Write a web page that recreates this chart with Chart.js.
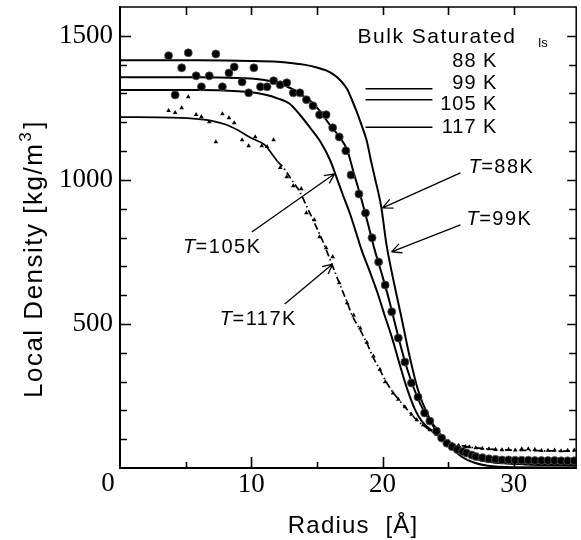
<!DOCTYPE html>
<html>
<head>
<meta charset="utf-8">
<title>Local Density vs Radius</title>
<script src="https://cdn.jsdelivr.net/npm/chart.js@4.4.0/dist/chart.umd.min.js"></script>
<style>
  body { margin: 0; background: #fff; }
  canvas { display: block; }
</style>
</head>
<body>
<canvas id="densityChart" width="581" height="540"></canvas>
<script>
// radius [A] and local density [kg/m3]

// theory curves
const radius88 = [0, 6, 10, 12, 13, 14, 15, 15.7, 16.2, 16.8, 17.3, 17.6, 18.0, 18.4, 18.8, 19.1, 19.4, 19.9, 20.3, 20.7, 21.0, 21.4, 22.0, 22.7, 23.5, 24.3, 25, 26, 27, 28, 30, 34.75];
const density88 = [1415, 1415, 1413, 1410, 1406, 1400, 1390, 1380, 1368, 1345, 1315, 1285, 1240, 1190, 1135, 1070, 1010, 906, 775, 680, 615, 531, 400, 271, 180, 122, 82, 40, 18, 8, 3, 2];

const radius99 = [0, 6, 9, 10, 11, 12, 13, 13.7, 14.4, 15.2, 16.0, 16.7, 17.3, 17.8, 18.4, 18.9, 19.4, 19.9, 20.4, 20.9, 21.4, 21.9, 22.4, 22.9, 23.5, 24.3, 25, 25.7, 26.5, 27.5, 29, 31, 34.75];
const density99 = [1356, 1356, 1354, 1352, 1347, 1337, 1318, 1298, 1278, 1240, 1190, 1150, 1104, 1025, 931, 845, 757, 680, 600, 510, 420, 340, 275, 220, 170, 118, 85, 60, 42, 28, 18, 12, 9];

const radius105 = [0, 6, 9, 10, 11, 12, 12.9, 13.7, 14.5, 15.3, 16.0, 16.5, 17.0, 17.5, 18.1, 18.4, 19.0, 19.6, 20.15, 20.7, 21.3, 21.9, 22.5, 23.0, 23.6, 24.3, 25, 26, 27, 28, 30, 34.75];
const density105 = [1312, 1312, 1308, 1304, 1296, 1283, 1265, 1226, 1180, 1130, 1069, 1008, 945, 885, 800, 757, 685, 610, 531, 455, 360, 271, 200, 162, 135, 112, 88, 55, 33, 22, 15, 12];

const radius117 = [0, 4, 6, 7, 8, 9, 10, 11, 12, 12.4, 13, 13.7, 14.2, 14.7, 15.4, 16.1, 16.7, 17.3, 17.7, 18.3, 18.8, 19.2, 19.8, 20.4, 20.8, 21.7, 22.6, 23.6, 24.5, 25.3, 26.6, 28.1, 30, 32, 34.75];
const density117 = [1218, 1216, 1211, 1205, 1193, 1172, 1145, 1122, 1064, 1045, 1005, 958, 910, 861, 792, 712, 642, 575, 528, 479, 434, 392, 340, 290, 262, 212, 167, 132, 104, 86, 73, 66, 62, 60, 58];

// simulation points (circles)
const circleRadius = [3.7, 5.2, 7.3, 4.7, 5.8, 6.8, 8.3, 8.7, 10.2, 9.3, 6.2, 7.8, 4.2, 9.8, 10.7, 11.2, 11.7, 12.2, 12.7, 13.2, 13.7, 14.2, 14.7, 15.2, 15.7, 16.2, 16.7, 17.2, 17.6, 18.2, 18.7, 19.2, 19.7, 20.2, 20.7, 21.2, 21.7, 22.2, 22.7, 23.2, 23.6, 24.1, 24.5, 24.9, 25.3, 25.7, 26.1, 26.4, 26.8, 27.1, 27.6, 28.1, 28.6, 29.1, 29.6, 30.1, 30.6, 31.1, 31.6, 32.1, 32.6, 33.1, 33.6, 34.1, 34.6];
const circleDensity = [1431, 1441, 1437, 1389, 1361, 1361, 1371, 1392, 1389, 1340, 1323, 1323, 1295, 1302, 1323, 1323, 1344, 1330, 1337, 1302, 1302, 1278, 1257, 1226, 1226, 1181, 1149, 1101, 1017, 951, 885, 799, 715, 635, 542, 451, 368, 295, 246, 191, 163, 128, 104, 86, 74, 64, 57, 52, 45, 40, 36, 32, 30, 28, 28, 27, 27, 27, 26, 26, 26, 26, 25, 25, 25];

// simulation points (triangles)
const triangleRadius = [3.7, 4.2, 4.7, 5.2, 5.8, 6.2, 6.8, 7.3, 7.8, 8.3, 8.7, 9.3, 9.8, 10.3, 10.8, 11.2, 11.7, 12.2, 12.7, 13.2, 13.8, 14.2, 14.8, 15.2, 15.7, 16.2, 16.7, 17.3, 17.8, 18.3, 18.8, 19.3, 19.8, 20.2, 20.8, 21.2, 21.7, 22.2, 22.6, 23.1, 23.6, 24.1, 24.5, 25.0, 25.3, 25.8, 26.3, 26.6, 27.1, 27.6, 28.1, 28.6, 29.1, 29.6, 30.1, 30.6, 31.1, 31.6, 32.1, 32.6, 33.1, 33.6, 34.1, 34.6];
const triangleDensity = [1240, 1233, 1250, 1288, 1226, 1219, 1201, 1132, 1229, 1215, 1198, 1139, 1118, 1149, 1118, 1115, 1139, 1042, 1010, 979, 969, 885, 861, 802, 764, 733, 642, 573, 530, 485, 436, 388, 342, 299, 260, 238, 212, 186, 167, 150, 132, 117, 104, 92, 83, 78, 74, 73, 70, 68, 66, 64, 63, 64, 62, 66, 66, 64, 60, 61, 62, 59, 61, 62];

// bulk saturated liquid density marks (99, 105, 117 K)
const bulkRadius = [18.7, 23.8];
const bulkDensity = [1316, 1278, 1183];
const bulkLabels = ['88 K', '99 K', '105 K', '117 K'];

const xTicks = [10, 20, 30];
const yTicks = [500, 1000, 1500];

const SANS = "'Liberation Sans', Arial, sans-serif";
const SERIF = "'Liberation Serif', 'Times New Roman', serif";

function pairs(xs, ys) {
  return xs.map((v, i) => ({ x: v, y: ys[i] }));
}

const curve = {
  showLine: true,
  borderColor: '#000',
  borderWidth: 2,
  pointRadius: 0,
  fill: false,
  cubicInterpolationMode: 'monotone'
};

const datasets = [
  {
    label: 'circles',
    data: pairs(circleRadius, circleDensity),
    pointStyle: 'circle',
    pointRadius: 4,
    backgroundColor: '#000',
    borderColor: '#555',
    borderWidth: 0.8
  },
  {
    label: 'triangles',
    data: pairs(triangleRadius, triangleDensity),
    pointStyle: 'triangle',
    pointRadius: 2.7,
    backgroundColor: '#000',
    borderWidth: 0
  },
  Object.assign({ label: 'T=88K', data: pairs(radius88, density88) }, curve),
  Object.assign({ label: 'T=99K', data: pairs(radius99, density99) }, curve),
  Object.assign({ label: 'T=105K', data: pairs(radius105, density105) }, curve),
  Object.assign({ label: 'T=117K', data: pairs(radius117, density117) }, curve, {
    borderWidth: 1.7,
    segment: {
      borderDash: c => (c.p0.parsed.x > 11 ? [7, 3, 1.5, 3] : undefined)
    }
  })
];

bulkDensity.forEach(d => {
  datasets.push(Object.assign({ label: 'bulk', data: bulkRadius.map(r => ({ x: r, y: d })) }, curve, { borderWidth: 1.5 }));
});

// arrows and labels, in data coordinates
const arrows = [
  { from: [25.93, 1024], to: [20.0, 903] },
  { from: [25.93, 844], to: [20.68, 750] },
  { from: [10.04, 819], to: [16.35, 1021] },
  { from: [12.55, 569], to: [16.2, 708] }
];
const tLabels = [
  { text: '=88K', at: [26.54, 1042] },
  { text: '=99K', at: [26.39, 861] },
  { text: '=105K', at: [4.79, 767] },
  { text: '=117K', at: [7.6, 514] }
];
const bulkLabelY = [1410, 1333, 1260, 1181];

function spaced(ctx, px) {
  if ('letterSpacing' in ctx) ctx.letterSpacing = px + 'px';
}

const decor = {
  id: 'decor',
  beforeDraw(chart) {
    const ctx = chart.ctx;
    ctx.save();
    ctx.fillStyle = '#fff';
    ctx.fillRect(0, 0, chart.width, chart.height);
    ctx.restore();
  },
  afterDraw(chart) {
    const { ctx, chartArea: a, scales: { x, y } } = chart;
    ctx.save();
    ctx.strokeStyle = '#000';
    ctx.fillStyle = '#000';
    ctx.setLineDash([]);

    // top and right frame
    ctx.lineWidth = 1.5;
    ctx.beginPath();
    ctx.moveTo(a.left, a.top);
    ctx.lineTo(a.right, a.top);
    ctx.lineTo(a.right, a.bottom);
    ctx.stroke();

    // inward ticks
    ctx.lineWidth = 1.6;
    ctx.beginPath();
    for (let v = 100; v < 1600; v += 100) {
      const py = Math.round(y.getPixelForValue(v)) + 0.5;
      const major = v % 500 === 0;
      ctx.moveTo(a.left, py);
      ctx.lineTo(a.left + (major ? 11 : 7), py);
      ctx.moveTo(a.right, py);
      ctx.lineTo(a.right - (major ? 9 : 7), py);
    }
    for (let v = 5; v < 35; v += 5) {
      const px = Math.round(x.getPixelForValue(v)) + 0.5;
      const major = v % 10 === 0;
      ctx.moveTo(px, a.bottom);
      ctx.lineTo(px, a.bottom - (major ? 11 : 6));
      ctx.moveTo(px, a.top);
      ctx.lineTo(px, a.top + 8);
    }
    ctx.stroke();

    // origin label
    ctx.font = '27px ' + SERIF;
    ctx.textAlign = 'center';
    ctx.textBaseline = 'middle';
    ctx.fillText('0', a.left - 12, a.bottom + 16);

    // axis titles
    ctx.textBaseline = 'alphabetic';
    ctx.textAlign = 'center';
    ctx.font = '24px ' + SANS;
    spaced(ctx, 1.2);
    ctx.fillText('Radius  [\u00C5]', (a.left + a.right) / 2 + 5, 533);

    ctx.save();
    ctx.translate(42, 259);
    ctx.rotate(-Math.PI / 2);
    ctx.textAlign = 'left';
    spaced(ctx, 1.5);
    const main = 'Local Density [kg/m';
    ctx.font = '26px ' + SANS;
    const w1 = ctx.measureText(main).width;
    ctx.font = '17px ' + SANS;
    const w2 = ctx.measureText('3').width;
    ctx.font = '26px ' + SANS;
    const w3 = ctx.measureText(']').width;
    let sx = -(w1 + w2 + w3 + 3) / 2;
    ctx.fillText(main, sx, 0);
    sx += w1 + 1;
    ctx.font = '17px ' + SANS;
    ctx.fillText('3', sx, -11);
    sx += w2 + 2;
    ctx.font = '26px ' + SANS;
    ctx.fillText(']', sx, 0);
    ctx.restore();

    // legend block
    ctx.textBaseline = 'middle';
    ctx.textAlign = 'left';
    ctx.font = '21px ' + SANS;
    spaced(ctx, 1.5);
    ctx.fillText('Bulk Saturated', x.getPixelForValue(18.1), y.getPixelForValue(1495));
    ctx.font = '13px ' + SANS;
    spaced(ctx, 0);
    ctx.fillText('ls', x.getPixelForValue(31.86), y.getPixelForValue(1472));
    ctx.font = '20px ' + SANS;
    ctx.textAlign = 'right';
    spaced(ctx, 1);
    bulkLabels.forEach((t, i) => {
      ctx.fillText(t, x.getPixelForValue(28.75), y.getPixelForValue(bulkLabelY[i]));
    });

    // arrows
    ctx.lineWidth = 1.3;
    arrows.forEach(ar => {
      const x0 = x.getPixelForValue(ar.from[0]), y0 = y.getPixelForValue(ar.from[1]);
      const x1 = x.getPixelForValue(ar.to[0]), y1 = y.getPixelForValue(ar.to[1]);
      const ang = Math.atan2(y1 - y0, x1 - x0);
      ctx.beginPath();
      ctx.moveTo(x0, y0);
      ctx.lineTo(x1, y1);
      for (const s of [-1, 1]) {
        ctx.moveTo(x1, y1);
        ctx.lineTo(x1 - 11 * Math.cos(ang + s * 0.45), y1 - 11 * Math.sin(ang + s * 0.45));
      }
      ctx.stroke();
    });

    // T= labels
    ctx.textAlign = 'left';
    tLabels.forEach(l => {
      const px = x.getPixelForValue(l.at[0]), py = y.getPixelForValue(l.at[1]);
      ctx.font = 'italic 20px ' + SANS;
      spaced(ctx, 1.5);
      ctx.fillText('T', px, py);
      const wt = ctx.measureText('T').width;
      ctx.font = '20px ' + SANS;
      ctx.fillText(l.text, px + wt - 1, py);
    });

    spaced(ctx, 0);
    ctx.restore();
  }
};

new Chart(document.getElementById('densityChart'), {
  type: 'scatter',
  data: { datasets: datasets },
  options: {
    responsive: false,
    animation: false,
    devicePixelRatio: 1,
    layout: { padding: { top: 7, right: 4, left: 0, bottom: 0 } },
    plugins: {
      legend: { display: false },
      tooltip: { enabled: false }
    },
    scales: {
      x: {
        type: 'linear',
        min: 0,
        max: 34.75,
        afterFit: s => { s.height = 72; s.paddingLeft = 0; s.paddingRight = 0; },
        afterBuildTicks: s => { s.ticks = xTicks.map(v => ({ value: v })); },
        grid: { display: true, drawOnChartArea: false, drawTicks: false },
        border: { display: true, color: '#000', width: 2 },
        ticks: {
          color: '#000',
          padding: 1,
          maxRotation: 0,
          autoSkip: false,
          callback: v => String(v),
          font: { family: SERIF, size: 27 }
        }
      },
      y: {
        type: 'linear',
        min: 0,
        max: 1600,
        afterFit: s => { s.width = 120; s.paddingTop = 0; s.paddingBottom = 0; },
        afterBuildTicks: s => { s.ticks = yTicks.map(v => ({ value: v })); },
        grid: { display: true, drawOnChartArea: false, drawTicks: false },
        border: { display: true, color: '#000', width: 2 },
        ticks: {
          color: '#000',
          padding: 7,
          autoSkip: false,
          callback: v => String(v),
          font: { family: SERIF, size: 27 }
        }
      }
    }
  },
  plugins: [decor]
});
</script>
</body>
</html>
